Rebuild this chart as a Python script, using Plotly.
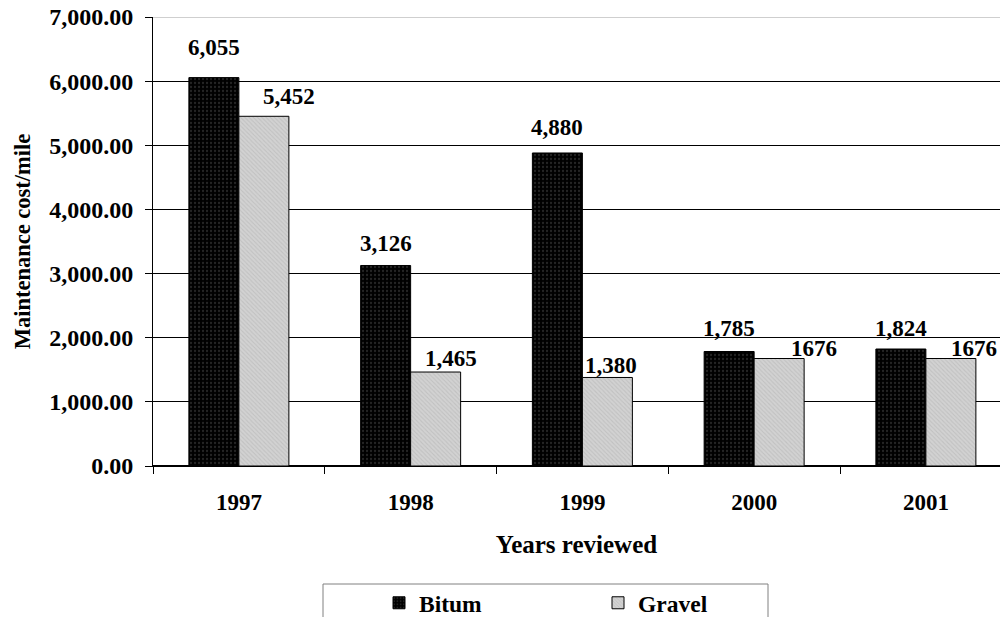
import plotly.graph_objects as go

# Maintenance cost per mile by surface type
years = ["1997", "1998", "1999", "2000", "2001"]
bitum = [6055, 3126, 4880, 1785, 1824]
gravel = [5452, 1465, 1380, 1676, 1676]
bitum_labels = ["6,055", "3,126", "4,880", "1,785", "1,824"]
gravel_labels = ["5,452", "1,465", "1,380", "1676", "1676"]

# label placement tweaks (pixels): horizontal shift, height above bar top
bitum_dx = [0, 0, 0, 0, 0]
bitum_dy = [30, 22, 25, 23, 21]
gravel_dx = [25, 15, 4, 35, 23]
gravel_dy = [20, 14, 12, 10, 10]

FONT = "Liberation Serif"
W, H = 1000, 617
ML, MR, MT, MB = 153, 0, 17, 151
CAT_PX = 171.75          # width of one year slot
BAR_PX = 50              # width of each bar

plot_w = W - ML - MR
plot_h = H - MT - MB
x_max = -0.5 + plot_w / CAT_PX


def bold(size):
    return dict(family=FONT, size=size, color="black", weight="bold")


fig = go.Figure()
fig.add_trace(go.Bar(
    name="Bitum", x=years, y=bitum,
    marker=dict(color="black", line=dict(color="black", width=1),
                pattern=dict(shape=".", fgcolor="#4a4a4a", bgcolor="black",
                             size=4, solidity=0.25)),
))
fig.add_trace(go.Bar(
    name="Gravel", x=years, y=gravel,
    marker=dict(color="#c4c4c4", line=dict(color="black", width=1),
                pattern=dict(shape="\\", fgcolor="#b0b0b0", bgcolor="#d2d2d2",
                             size=3, solidity=0.35)),
))

# value labels, placed by category index on the category axis
annos = []
for i in range(len(years)):
    annos.append(dict(x=i, y=bitum[i], xref="x", yref="y",
                      text=bitum_labels[i], showarrow=False,
                      xshift=-BAR_PX / 2 + bitum_dx[i], yshift=bitum_dy[i],
                      xanchor="center", yanchor="middle", font=bold(23)))
    annos.append(dict(x=i, y=gravel[i], xref="x", yref="y",
                      text=gravel_labels[i], showarrow=False,
                      xshift=BAR_PX / 2 + gravel_dx[i], yshift=gravel_dy[i],
                      xanchor="center", yanchor="middle", font=bold(23)))

# legend frame
leg_left = (323 - ML) / plot_w
leg_right = (768 - ML) / plot_w
leg_top = (H - MB - 584) / plot_h
leg_bot = (H - MB - 640) / plot_h
leg_x = (379 - ML) / plot_w
leg_y = (H - MB - 581) / plot_h

fig.update_layout(
    width=W, height=H,
    margin=dict(l=ML, r=MR, t=MT, b=MB, autoexpand=False),
    paper_bgcolor="white", plot_bgcolor="white",
    barmode="group", bargap=1 - 2 * BAR_PX / CAT_PX, bargroupgap=0,
    font=bold(22),
    showlegend=True,
    legend=dict(orientation="h", x=leg_x, xanchor="left",
                y=leg_y, yanchor="top",
                entrywidth=174, entrywidthmode="pixels",
                font=bold(23.5), bgcolor="rgba(0,0,0,0)", borderwidth=0),
    annotations=annos,
    shapes=[
        dict(type="line", xref="paper", yref="y", x0=0, x1=1, y0=7000, y1=7000,
             line=dict(color="#a0a0a0", width=1), layer="above"),
        dict(type="rect", xref="paper", yref="paper",
             x0=leg_left, x1=leg_right, y0=leg_bot, y1=leg_top,
             line=dict(color="#808080", width=1), layer="above"),
    ],
)

fig.update_xaxes(
    type="category", range=[-0.5, x_max],
    showline=True, linecolor="black", linewidth=1,
    ticks="outside", tickson="boundaries", ticklen=7, tickcolor="black",
    ticklabelstandoff=15,
    showgrid=False,
    tickfont=bold(23),
    title=dict(text="Years reviewed", standoff=21, font=bold(25)),
)
fig.update_yaxes(
    range=[0, 7000], dtick=1000, tickformat=",.2f",
    showline=True, linecolor="black", linewidth=1,
    ticks="outside", ticklen=7, tickcolor="black",
    ticklabelstandoff=7,
    showgrid=True, gridcolor="black", gridwidth=1,
    zeroline=True, zerolinecolor="black",
    tickfont=bold(24),
    title=dict(text="Maintenance cost/mile", standoff=12, font=bold(22.5)),
)

fig.write_html("out.html")
